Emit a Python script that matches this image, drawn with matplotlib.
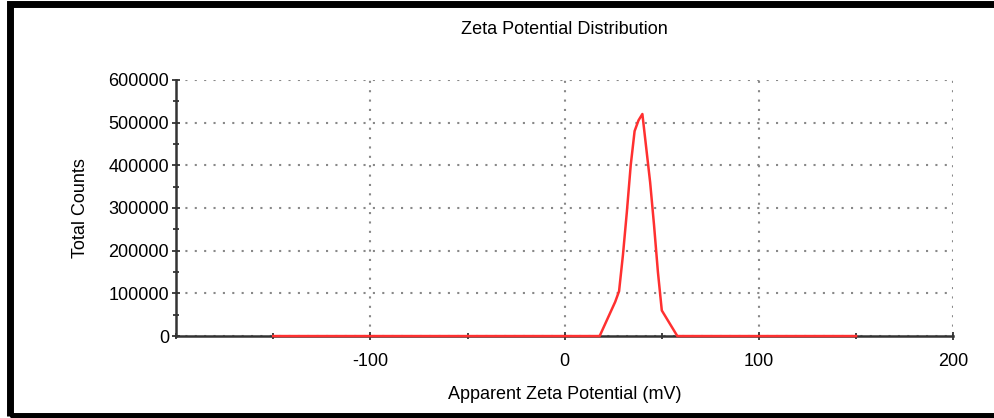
import matplotlib
matplotlib.use("Agg")
import matplotlib.pyplot as plt
from matplotlib.ticker import MultipleLocator
from matplotlib.patches import Rectangle

# zeta potential distribution
zeta_mv = [-150, 18, 22, 26, 28, 30, 32, 34, 36, 38, 40, 42, 44, 46, 48, 50, 54, 58, 150]
counts = [0, 0, 40000, 80000, 105000, 190000, 290000, 400000, 480000, 505000,
          520000, 440000, 360000, 260000, 150000, 60000, 30000, 0, 0]

x_ticks = [-100, 0, 100, 200]
y_ticks = [0, 100000, 200000, 300000, 400000, 500000, 600000]

plt.rcParams['font.family'] = ['Liberation Sans', 'DejaVu Sans']
plt.rcParams['axes.unicode_minus'] = False

fig = plt.figure(figsize=(9.95, 4.18), dpi=100)
ax = fig.add_axes([0.177, 0.196, 0.781, 0.613])

ax.plot(zeta_mv, counts, color='#ff3030', lw=1.8, zorder=3, clip_on=False)

ax.set_xlim(-200, 200)
ax.set_ylim(0, 600000)
ax.set_xticks(x_ticks)
ax.set_yticks(y_ticks)
ax.xaxis.set_minor_locator(MultipleLocator(50))
ax.yaxis.set_minor_locator(MultipleLocator(50000))

ax.spines['top'].set_visible(False)
ax.spines['right'].set_visible(False)
for s in ('left', 'bottom'):
    ax.spines[s].set_linewidth(1.8)
    ax.spines[s].set_color('#333333')

ax.tick_params(which='both', direction='inout', color='#222222', width=1.2,
               labelsize=13, pad=2)
ax.tick_params(which='major', length=6)
ax.tick_params(which='minor', length=5)
ax.tick_params(axis='x', pad=9)

ax.set_axisbelow(True)
ax.grid(True, which='major', axis='both', color='#888888', linestyle=(0, (1, 3.5)),
        linewidth=1.5)

ax.set_title('Zeta Potential Distribution', fontsize=13, pad=33)
ax.set_xlabel('Apparent Zeta Potential (mV)', fontsize=13, labelpad=12)
ax.set_ylabel('Total Counts', fontsize=13, labelpad=14)

# black border round the picture (right edge is cut off)
fig.add_artist(Rectangle((0.010, 0.005), 1.2, 0.985, transform=fig.transFigure,
                         fill=False, edgecolor='black', linewidth=5))

fig.savefig('out.png', dpi=100)
